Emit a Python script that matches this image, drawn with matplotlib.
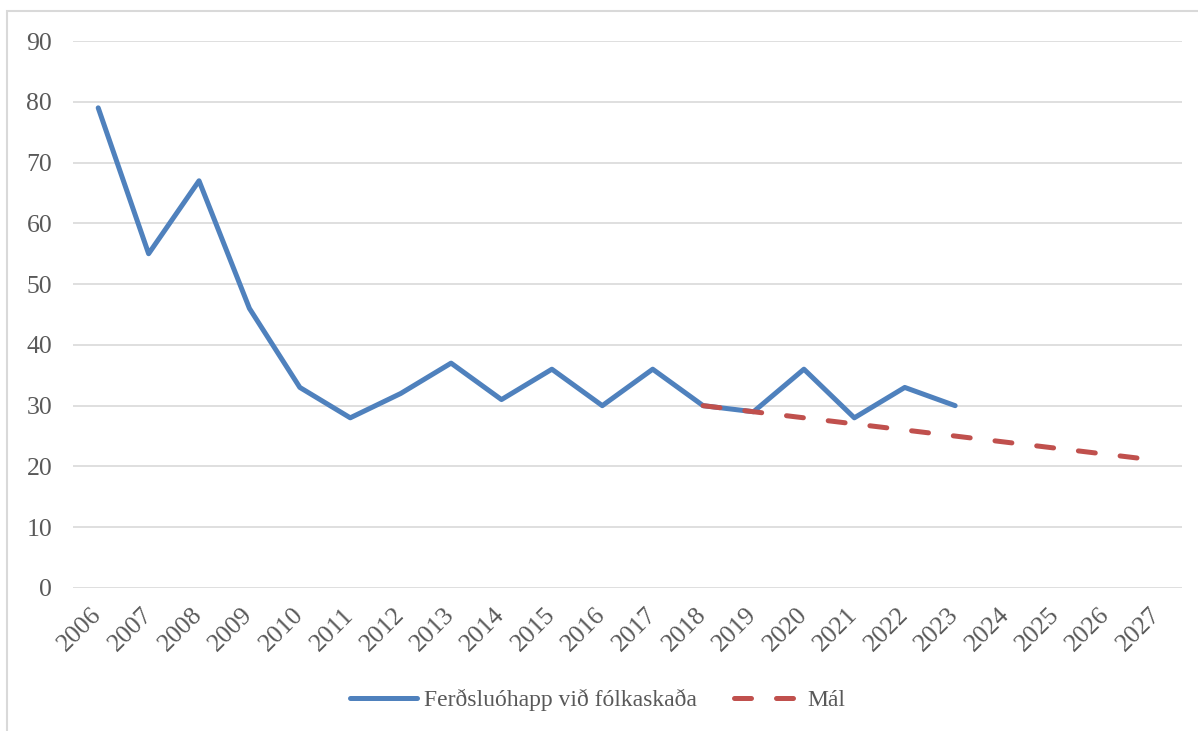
import matplotlib.pyplot as plt
from matplotlib.patches import Rectangle

# data
years = [str(y) for y in range(2006, 2028)]
accidents = [79, 55, 67, 46, 33, 28, 32, 37, 31, 36, 30, 36, 30, 29, 36, 28, 33, 30]
target_years = [str(y) for y in range(2018, 2028)]
target = [30, 29, 28, 27, 26, 25, 24, 23, 22, 21]

blue = "#4f81bd"
red = "#c0504d"
grey_text = "#595959"

plt.rcParams["font.family"] = ["Liberation Serif", "DejaVu Serif"]

W, H = 1198, 731
fig = plt.figure(figsize=(W / 100, H / 100), dpi=100)
ax = fig.add_axes([73 / W, 1 - 588 / H, (1182 - 73) / W, (588 - 41) / H])

# light frame round the chart
fig.patches.append(Rectangle((7 / W, -0.05), 1.1, 1 - 11 / H + 0.05,
                             transform=fig.transFigure, fill=False,
                             edgecolor="#d9d9d9", lw=1.5))

x = list(range(len(years)))
ax.plot(x[:len(accidents)], accidents, color=blue, lw=3.6,
        solid_capstyle="round", solid_joinstyle="round",
        label="Ferðsluóhapp við fólkaskaða")
tx = [years.index(y) for y in target_years]
ax.plot(tx, target, color=red, lw=3.6, dashes=(3.4, 5),
        dash_capstyle="round", label="Mál")

ax.set_xlim(-0.5, len(years) - 0.5)
ax.set_ylim(0, 90)
ax.set_yticks(range(0, 91, 10))
ax.set_xticks(x)
ax.set_xticklabels(years, rotation=45, ha="right", va="center",
                   rotation_mode="anchor")
ax.tick_params(axis="x", length=0, pad=17, labelsize=18.5, labelcolor=grey_text)
ax.tick_params(axis="y", length=0, pad=15, labelsize=18.5, labelcolor=grey_text)
ax.grid(axis="y", color="#d9d9d9", lw=1.2)
ax.set_axisbelow(True)
for s in ax.spines.values():
    s.set_visible(False)

fig.legend(loc="center", bbox_to_anchor=(598 / W, 1 - 700 / H), ncol=2,
           frameon=False, fontsize=17, labelcolor=grey_text,
           handlelength=2.8, columnspacing=1.6, handletextpad=0.3)

fig.savefig("out.png", dpi=100)
